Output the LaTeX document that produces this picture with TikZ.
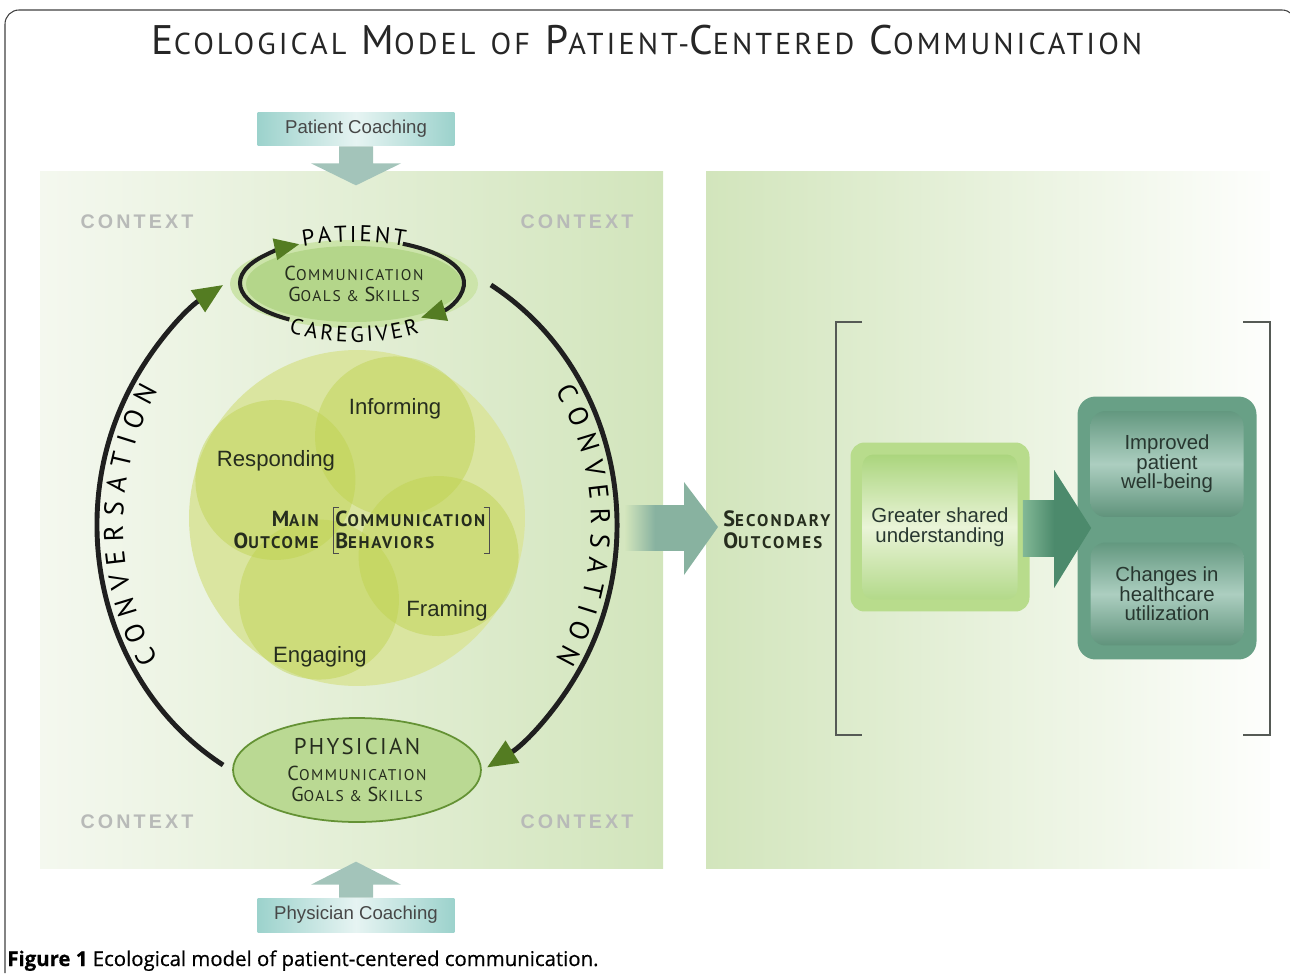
\documentclass[tikz,border=0pt]{standalone}
\usepackage{fontspec}
\setmainfont{Liberation Sans}
\newfontfamily\capfont[LetterSpace=10]{PT Sans}
\newfontfamily\arcfont{PT Sans}
\newfontfamily\ctxfont[LetterSpace=16]{Liberation Sans}
\newfontfamily\capnfont[FakeBold=0.5]{Open Sans}
\usetikzlibrary{shapes.geometric,arrows.meta,decorations.text,calc}

\definecolor{panelgreen}{RGB}{210,229,188}
\definecolor{panelpale}{RGB}{244,248,239}
\definecolor{coachteal}{RGB}{156,210,204}
\definecolor{coacharrow}{RGB}{163,196,186}
\definecolor{ctxgray}{RGB}{184,186,184}
\definecolor{ellfill}{RGB}{180,214,138}
\definecolor{ellhalo}{RGB}{204,228,170}
\definecolor{elledge}{RGB}{100,146,52}
\definecolor{tipgreen}{RGB}{84,124,34}
\definecolor{corefill}{RGB}{218,229,160}
\definecolor{petalfill}{RGB}{190,210,76}
\definecolor{inktext}{RGB}{38,45,30}
\definecolor{bigteal}{RGB}{136,178,160}
\definecolor{gsuouter}{RGB}{184,220,140}
\definecolor{gsutop}{RGB}{160,208,110}
\definecolor{gsumid}{RGB}{234,244,216}
\definecolor{darkteal}{RGB}{76,138,108}
\definecolor{lightteal}{RGB}{130,184,150}
\definecolor{outteal}{RGB}{104,160,134}
\definecolor{outmid}{RGB}{172,206,192}
\definecolor{outink}{RGB}{40,55,48}
\definecolor{bracketgray}{RGB}{85,90,85}

% small caps by hand
\newcommand{\tsm}[1]{{\fontsize{17.2}{20}\selectfont #1}}
\newcommand{\esm}[1]{{\fontsize{8.8}{12}\selectfont #1}}
\newcommand{\bsm}[1]{{\fontsize{9.6}{12}\selectfont #1}}

\tikzset{
	coach/.style = {inner sep=0pt, minimum width=3.94cm, minimum height=0.68cm, left color=coachteal, right color=coachteal, middle color=coachteal!25, text=black!72, font=\fontsize{10.6}{12}\selectfont},
	ctx/.style = {text=ctxgray, font=\ctxfont\bfseries\fontsize{11.2}{12}\selectfont},
	goals/.style = {ellipse, inner sep=0pt, align=center, text=inktext, font=\capfont\fontsize{11.5}{12}\selectfont},
	petal/.style = {circle, minimum size=3.2cm, fill=petalfill, fill opacity=0.45},
	behav/.style = {text=inktext, font=\fontsize{12.6}{14}\selectfont},
	capsbold/.style = {inner sep=0pt, text=inktext, font=\capfont\bfseries\fontsize{12.4}{12.4}\selectfont},
	convline/.style = {line width=2.8pt, black!88, -{Triangle[length=0.6cm, width=0.5cm, color=tipgreen]}},
	loopline/.style = {line width=2.3pt, black!88, -{Triangle[length=0.5cm, width=0.42cm, color=tipgreen]}},
	outtext/.style = {align=center, text=outink, font=\fontsize{11.6}{11.2}\selectfont},
	outinner/.style = {rounded corners=0.3cm, minimum width=3.06cm, top color=outteal!95!black, bottom color=outteal!92!black, middle color=outmid, outtext}
}

\begin{document}
\begin{tikzpicture}[x=0.02cm, y=0.02cm]
\useasboundingbox (0,0) rectangle (1290,-973);

% frame and title
\draw[black!75, line width=0.6pt, rounded corners=8pt] (5,-973) -- (5,-10) -- (1296,-10) -- (1296,-973);
\node[anchor=base, text=black!85, font=\capfont\fontsize{23.5}{26}\selectfont] (title) at (647,-55)
	{E\tsm{COLOGICAL} M\tsm{ODEL} \tsm{OF} P\tsm{ATIENT-}C\tsm{ENTERED} C\tsm{OMMUNICATION}};

% panels
\shade[left color=panelpale, right color=panelgreen] (40,-172) rectangle (663,-868);
\shade[left color=panelgreen, right color=white!96!panelgreen] (706,-172) rectangle (1270,-868);

\node[ctx] (ctx1) at (137,-222) {CONTEXT};
\node[ctx] (ctx2) at (577,-222) {CONTEXT};
\node[ctx] (ctx3) at (137,-822) {CONTEXT};
\node[ctx] (ctx4) at (577,-822) {CONTEXT};

% coaching
\node[coach] (pc) at (356,-129) {Patient Coaching};
\node[coach] (phc) at (356,-915) {Physician Coaching};
\fill[coacharrow] (pc.south) ++(-17,0) -- ++(0,-17) -- ++(-28,0) -- ++(45,-22) -- ++(45,22) -- ++(-28,0) -- ++(0,17) -- cycle;
\fill[coacharrow] (phc.north) ++(-17,0) -- ++(0,13) -- ++(-28,0) -- ++(45,23) -- ++(45,-23) -- ++(-28,0) -- ++(0,-13) -- cycle;

% communication behaviors
\node[circle, minimum size=6.72cm, fill=corefill] (core) at (357,-518) {};
\foreach \a/\nm in {65/inf,155/resp,245/eng,335/fram}
	\node[petal] (\nm) at ([shift={(\a:90)}]core.center) {};
\node[behav] (tinf) at (395,-409) {Informing};
\node[behav] (tresp) at (276,-461) {Responding};
\node[behav] (tfram) at (447,-611) {Framing};
\node[behav] (teng) at (320,-657) {Engaging};
\node[capsbold, anchor=east, align=right] (mainout) at (319,-530) {M\bsm{AIN}\\O\bsm{UTCOME}};
\node[capsbold, anchor=west, align=left] (behv) at (335,-530) {C\bsm{OMMUNICATION}\\B\bsm{EHAVIORS}};
\draw[black!70, line width=0.5pt] ([shift={(4,3)}]behv.north west) -- ++(-6,0) -- ([shift={(-2,-4)}]behv.south west) -- ++(6,0);
\draw[black!70, line width=0.5pt] ([shift={(-2,3)}]behv.north east) -- ++(6,0) -- ([shift={(4,-4)}]behv.south east) -- ++(-6,0);

% patient ellipse
\coordinate (ptnc) at (354,-284);
\fill[ellhalo] (ptnc) ellipse[x radius=124, y radius=44];
\fill[ellfill] (ptnc) ellipse[x radius=108, y radius=38];
\node[goals] (ptn) at (ptnc) {C\esm{OMMUNICATION}\\G\esm{OALS \& }S\esm{KILLS}};
\draw[loopline] (352,-283) ++(236:112 and 44) arc[start angle=236, end angle=118, x radius=112, y radius=44];
\draw[loopline] (352,-283) ++(63:112 and 44) arc[start angle=63, end angle=-52, x radius=112, y radius=44];
\path[decorate, decoration={text along path, text={|\arcfont\fontsize{13}{14}\selectfont|PATIENT}, text align=fit to path}]
	(ptnc) ++(116:116 and 42) arc[start angle=116, end angle=64, x radius=116, y radius=42];
\path[decorate, decoration={text along path, text={|\arcfont\fontsize{12.5}{14}\selectfont|CAREGIVER}, text align=fit to path}]
	(ptnc) ++(237:120 and 58) arc[start angle=237, end angle=303, x radius=120, y radius=58];

% physician ellipse
\node[goals, draw=elledge, line width=1pt, fill=ellfill!92!white, minimum width=4.96cm, minimum height=2.08cm] (phy) at (357,-770)
	{{\fontsize{13}{14}\selectfont PHYSICIAN}\\[3pt]C\esm{OMMUNICATION}\\G\esm{OALS \& }S\esm{KILLS}};

% conversation
\coordinate (conv) at (357,-525);
\draw[convline] (conv) ++(239:260 and 280) arc[start angle=239, end angle=121, x radius=260, y radius=280];
\draw[convline] (conv) ++(59:260 and 280) arc[start angle=59, end angle=-60, x radius=260, y radius=280];
\path[decorate, decoration={text along path, text={|\arcfont\fontsize{15.5}{18}\selectfont|CONVERSATION}, text align=fit to path}]
	(conv) ++(212:234 and 254) arc[start angle=212, end angle=148, x radius=234, y radius=254];
\path[decorate, decoration={text along path, text={|\arcfont\fontsize{15.5}{18}\selectfont|CONVERSATION}, text align=fit to path}]
	(conv) ++(32:234 and 254) arc[start angle=32, end angle=-32, x radius=234, y radius=254];

% secondary outcomes
\node[capsbold, anchor=west, align=left, font=\capfont\bfseries\fontsize{12.6}{12.8}\addfontfeature{LetterSpace=13}] (secout) at (723,-530) {S\bsm{ECONDARY}\\O\bsm{UTCOMES}};
\coordinate (tipA) at ($(secout.west)+(-5,3)$);
\shade[left color=panelgreen, right color=bigteal, middle color=bigteal] ($(tipA)+(-93,22)$) rectangle ($(tipA)+(-33,-23)$);
\fill[bigteal] ($(tipA)+(-34,45)$) -- (tipA) -- ($(tipA)+(-34,-48)$) -- cycle;

\draw[bracketgray, line width=0.8pt] (862,-322) -- (836,-322) -- (836,-735) -- (862,-735);
\draw[bracketgray, line width=0.8pt] (1243,-322) -- (1270,-322) -- (1270,-735) -- (1243,-735);

\node[rounded corners=0.28cm, fill=gsuouter, minimum width=3.58cm, minimum height=3.38cm, outtext,
	path picture={\shade[rounded corners=0.22cm, top color=gsutop, bottom color=gsutop!90!white, middle color=gsumid]
		([shift={(12,-12)}]path picture bounding box.north west) rectangle ([shift={(-12,12)}]path picture bounding box.south east);}]
	(gsu) at (940,-527) {Greater shared\\understanding};

\node[rounded corners=0.36cm, fill=outteal, minimum width=3.58cm, minimum height=5.26cm] (outbox) at (1167,-528) {};
\node[outinner, minimum height=2.12cm] (wellb) at (1167,-464) {Improved\\patient\\well-being};
\node[outinner, minimum height=2.06cm] (util) at (1167,-594) {Changes in\\healthcare\\utilization};

\coordinate (tipB) at ($(outbox.west)+(14,0)$);
\shade[left color=lightteal, right color=darkteal] ($(gsu.east)+(-7,27)$) rectangle ($(tipB)+(-37,-28)$);
\fill[darkteal] ($(tipB)+(-37,58)$) -- (tipB) -- ($(tipB)+(-37,-60)$) -- cycle;

% caption
\node[anchor=base west, inner sep=0pt, font=\capnfont\fontsize{11.6}{13}\selectfont] (caption) at (7,-966)
	{\textbf{Figure 1} Ecological model of patient-centered communication.};
\end{tikzpicture}
\end{document}
